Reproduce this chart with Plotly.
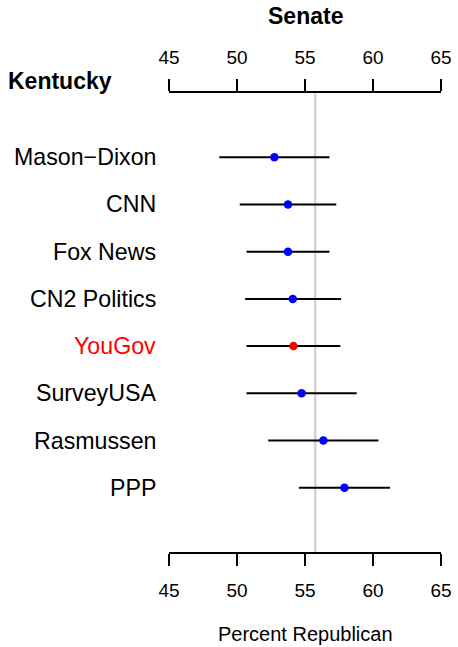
import plotly.graph_objects as go

pollsters = ["Mason−Dixon", "CNN", "Fox News", "CN2 Politics", "YouGov",
             "SurveyUSA", "Rasmussen", "PPP"]
estimate = [52.75, 53.75, 53.75, 54.1, 54.15, 54.75, 56.35, 57.9]
lower = [48.7, 50.2, 50.7, 50.6, 50.7, 50.7, 52.3, 54.55]
upper = [56.8, 57.3, 56.8, 57.65, 57.6, 58.8, 60.4, 61.25]
highlight = ["YouGov"]
result = 55.75
tick_vals = [45, 50, 55, 60, 65]
x_range = [45, 65]

FONT = "Liberation Sans, Arial, Helvetica, sans-serif"
rows = list(range(1, len(pollsters) + 1))
colors = ["#FF0000" if p in highlight else "#0000FF" for p in pollsters]

fig = go.Figure()
fig.add_trace(go.Scatter(
    x=estimate, y=rows, mode="markers",
    marker=dict(size=8.5, color=colors, line=dict(width=0)),
    error_x=dict(type="data", symmetric=False,
                 array=[u - e for u, e in zip(upper, estimate)],
                 arrayminus=[e - l for e, l in zip(estimate, lower)],
                 width=0, thickness=2, color="black"),
    showlegend=False, hoverinfo="skip", cliponaxis=False,
))
# dummy trace for top axis
fig.add_trace(go.Scatter(x=x_range, y=[rows[0], rows[0]], xaxis="x2",
                         mode="markers", marker=dict(opacity=0),
                         showlegend=False, hoverinfo="skip"))

fig.add_shape(type="line", xref="x", yref="paper", x0=result, x1=result,
              y0=0, y1=1, line=dict(color="#D3D3D3", width=2.5), layer="below")

axis_common = dict(range=x_range, tickvals=tick_vals, showline=True,
                   linecolor="black", linewidth=2, ticks="outside", ticklen=12,
                   tickwidth=2, tickcolor="black", showgrid=False, zeroline=False,
                   tickfont=dict(family=FONT, size=19, color="black"),
                   fixedrange=True, automargin=False)
fig.update_layout(
    width=458, height=647,
    margin=dict(l=169, r=17, t=93, b=95, autoexpand=False),
    paper_bgcolor="white", plot_bgcolor="white",
    xaxis=dict(**axis_common, side="bottom", ticklabelstandoff=8),
    xaxis2=dict(**axis_common, side="top", overlaying="x", matches="x",
                anchor="y", ticklabelstandoff=7),
    yaxis=dict(range=[len(pollsters) + 1.36, -0.36], visible=False,
               fixedrange=True, automargin=False),
)

for p, r, c in zip(pollsters, rows, colors):
    fig.add_annotation(x=0, xref="paper", y=r, yref="y", text=p,
                       xanchor="right", yanchor="middle", xshift=-11,
                       showarrow=False,
                       font=dict(family=FONT, size=23.2,
                                 color="#FF0000" if p in highlight else "black"))

fig.add_annotation(x=0.5, xref="paper", y=1, yref="paper", yshift=77,
                   text="<b>Senate</b>", showarrow=False, xanchor="center",
                   yanchor="middle", font=dict(family=FONT, size=23, color="black"))
fig.add_annotation(x=0, xref="paper", y=1, yref="paper", yshift=12, xshift=-163,
                   text="<b>Kentucky</b>", showarrow=False, xanchor="left",
                   yanchor="middle", font=dict(family=FONT, size=23, color="black"))
fig.add_annotation(x=0.5, xref="paper", y=0, yref="paper", yshift=-82,
                   text="Percent Republican", showarrow=False, xanchor="center",
                   yanchor="middle", font=dict(family=FONT, size=20, color="black"))

fig.write_html("out.html", config={"displayModeBar": False},
               post_script="document.body.style.margin='0';document.body.style.overflow='hidden';")
